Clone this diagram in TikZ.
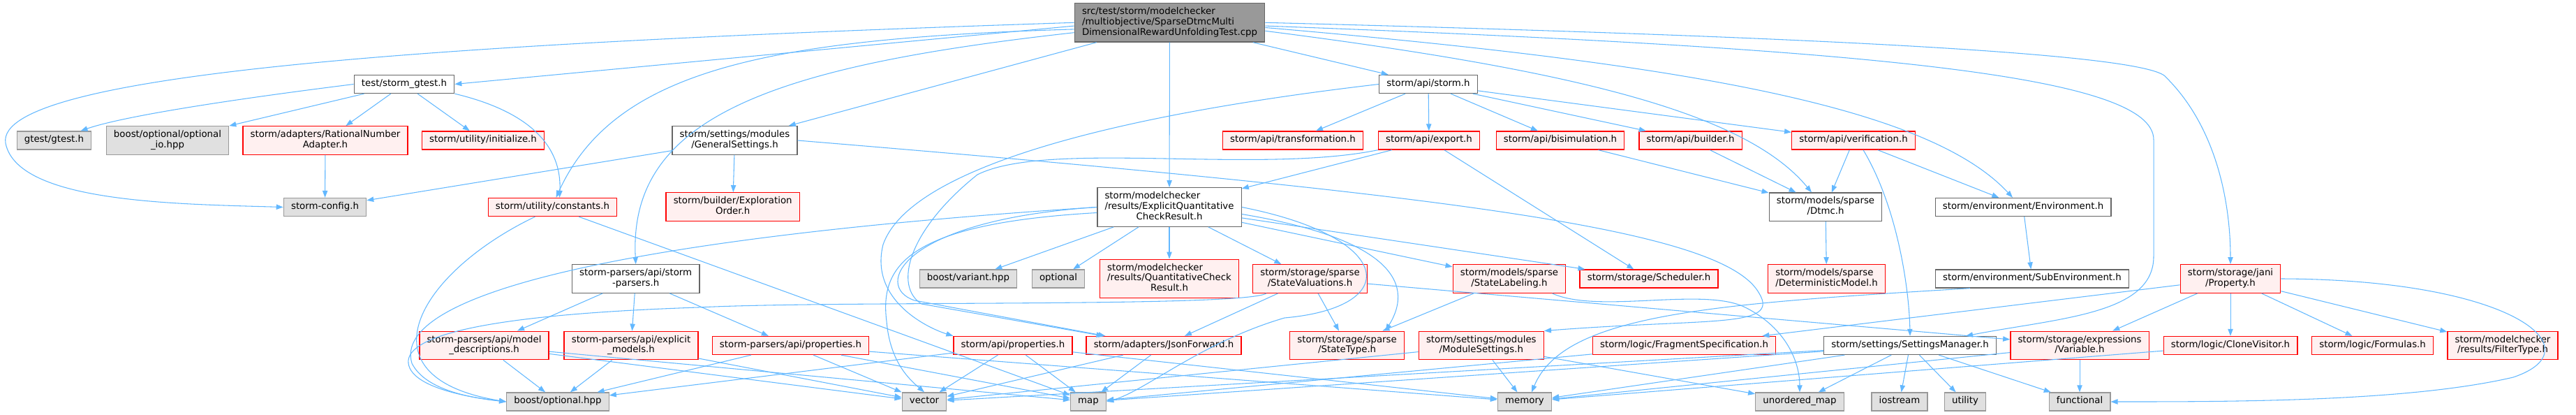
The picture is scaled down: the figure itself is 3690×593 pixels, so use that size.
\documentclass[tikz,border=0pt]{standalone}
\usepackage{fontspec}
\setmainfont{DejaVu Sans}
\usetikzlibrary{calc,arrows.meta}
\definecolor{edgeblue}{HTML}{63B8FF}
\definecolor{mainfill}{HTML}{999999}
\definecolor{mainline}{HTML}{666666}
\definecolor{plainline}{HTML}{666666}
\definecolor{redfill}{HTML}{FFF0F0}
\definecolor{redline}{HTML}{FF0000}
\definecolor{sysfill}{HTML}{E0E0E0}
\definecolor{sysline}{HTML}{999999}
% first lines flush left, last line centred
\newcommand{\lines}[2]{\begin{tabular}{@{}l@{}}#1\\\multicolumn{1}{@{}c@{}}{#2}\end{tabular}}

\begin{document}
\begin{tikzpicture}[x=0.75pt,y=-0.75pt,
  hdr/.style={draw=plainline,fill=white,line width=1pt,inner xsep=8pt,inner ysep=4pt,
    minimum height=19.5pt,font=\fontsize{10}{11.2}\selectfont,execute at begin node=\strut},
  hdrred/.style={hdr,draw=redline,fill=redfill},
  hdrsys/.style={hdr,draw=sysline,fill=sysfill},
  hdrmain/.style={hdr,draw=mainline,fill=mainfill},
  incl/.style={edgeblue,line width=0.8pt,->,>={Triangle[length=7.5pt,width=5.5pt]}}]
  \useasboundingbox (0,0) rectangle (3690,593);

  % row 0 and 1
  \node[hdrmain] (main) at (1675.5,32.3) {\lines{src/test/storm/modelchecker\\/multiobjective/SparseDtmcMulti}{DimensionalRewardUnfoldingTest.cpp}};
  \node[hdr] (gtestmain) at (579,120.5) {test/storm\_gtest.h};
  \node[hdr] (stormh) at (2046,120.5) {storm/api/storm.h};

  % row 2
  \node[hdrsys] (gtest) at (77.5,201) {gtest/gtest.h};
  \node[hdrsys] (optio) at (240,201) {\lines{boost/optional/optional}{\_io.hpp}};
  \node[hdrred] (rna) at (466,201) {\lines{storm/adapters/RationalNumber}{Adapter.h}};
  \node[hdrred] (init) at (692,201) {storm/utility/initialize.h};
  \node[hdr] (gensets) at (1052.5,201) {\lines{storm/settings/modules}{/GeneralSettings.h}};
  \node[hdrred] (transf) at (1852,201) {storm/api/transformation.h};
  \node[hdrred] (export) at (2047,201) {storm/api/export.h};
  \node[hdrred] (bisim) at (2235,201) {storm/api/bisimulation.h};
  \node[hdrred] (builder) at (2421.6,201) {storm/api/builder.h};
  \node[hdrred] (verif) at (2655,201) {storm/api/verification.h};

  % row 3
  \node[hdrsys] (config) at (465.5,296.5) {storm-config.h};
  \node[hdrred] (consts) at (791.5,296.5) {storm/utility/constants.h};
  \node[hdrred] (exporder) at (1049.7,296) {\lines{storm/builder/Exploration}{Order.h}};
  \node[hdr] (eqcr) at (1675,296.5) {\lines{storm/modelchecker\\/results/ExplicitQuantitative}{CheckResult.h}};
  \node[hdr] (dtmc) at (2615,296.3) {\lines{storm/models/sparse}{/Dtmc.h}};
  \node[hdr] (env) at (2898,296.5) {storm/environment/Environment.h};

  % row 4
  \node[hdr] (sparsers) at (910.7,399) {\lines{storm-parsers/api/storm}{-parsers.h}};
  \node[hdrsys] (variant) at (1387,399) {boost/variant.hpp};
  \node[hdrsys] (optional) at (1516,399) {optional};
  \node[hdrred] (qcr) at (1675,399) {\lines{storm/modelchecker\\/results/QuantitativeCheck}{Result.h}};
  \node[hdrred] (stateval) at (1876.5,399) {\lines{storm/storage/sparse}{/StateValuations.h}};
  \node[hdrred] (statelab) at (2162,399) {\lines{storm/models/sparse}{/StateLabeling.h}};
  \node[hdrred] (sched) at (2362,399) {storm/storage/Scheduler.h};
  \node[hdrred] (detmodel) at (2616.5,399) {\lines{storm/models/sparse}{/DeterministicModel.h}};
  \node[hdr] (subenv) at (2911,399) {storm/environment/SubEnvironment.h};
  \node[hdrred] (property) at (3195,399) {\lines{storm/storage/jani}{/Property.h}};

  % row 5
  \node[hdrred] (moddesc) at (693.5,494.5) {\lines{storm-parsers/api/model}{\_descriptions.h}};
  \node[hdrred] (explmod) at (904,494.5) {\lines{storm-parsers/api/explicit}{\_models.h}};
  \node[hdrred] (spprops) at (1132.5,494.5) {storm-parsers/api/properties.h};
  \node[hdrred] (apiprops) at (1451,494.5) {storm/api/properties.h};
  \node[hdrred] (json) at (1667,494.5) {storm/adapters/JsonForward.h};
  \node[hdrred] (statetype) at (1929.6,494.5) {\lines{storm/storage/sparse}{/StateType.h}};
  \node[hdrred] (modsets) at (2121.8,494.5) {\lines{storm/settings/modules}{/ModuleSettings.h}};
  \node[hdrred] (fragspec) at (2412.5,494.5) {storm/logic/FragmentSpecification.h};
  \node[hdr] (setman) at (2736,494.5) {storm/settings/SettingsManager.h};
  \node[hdrred] (variable) at (2979,494.5) {\lines{storm/storage/expressions}{/Variable.h}};
  \node[hdrred] (clonevis) at (3195,494.5) {storm/logic/CloneVisitor.h};
  \node[hdrred] (formulas) at (3398.6,494.5) {storm/logic/Formulas.h};
  \node[hdrred] (filtertype) at (3585,494.5) {\lines{storm/modelchecker}{/results/FilterType.h}};

  % row 6
  \node[hdrsys] (boostopt) at (799,575) {boost/optional.hpp};
  \node[hdrsys] (vector) at (1324,575) {vector};
  \node[hdrsys] (map) at (1559,575) {map};
  \node[hdrsys] (memory) at (2184,575) {memory};
  \node[hdrsys] (umap) at (2578,575) {unordered\_map};
  \node[hdrsys] (iostream) at (2721,575) {iostream};
  \node[hdrsys] (utility) at (2815,575) {utility};
  \node[hdrsys] (functional) at (2979,575) {functional};

  % straight includes
  \foreach \a/\b in {main/gensets,main/eqcr,main/stormh,
    gtestmain/optio,gtestmain/rna,gtestmain/init,rna/config,gensets/config,gensets/exporder,
    consts/map,sparsers/moddesc,sparsers/explmod,sparsers/spprops,
    moddesc/boostopt,moddesc/vector,moddesc/map,explmod/boostopt,explmod/vector,
    spprops/boostopt,spprops/vector,spprops/map,spprops/memory,
    apiprops/boostopt,apiprops/vector,apiprops/map,apiprops/memory,json/vector,json/map,
    eqcr/variant,eqcr/optional,eqcr/qcr,eqcr/stateval,eqcr/statelab,eqcr/sched,
    stormh/transf,stormh/export,stormh/bisim,stormh/builder,stormh/verif,
    export/eqcr,export/sched,bisim/dtmc,builder/dtmc,verif/dtmc,verif/env,
    dtmc/detmodel,env/subenv,stateval/json,stateval/statetype,stateval/variable,
    statelab/statetype,modsets/memory,modsets/umap,modsets/vector,fragspec/map,
    setman/memory,setman/umap,setman/iostream,setman/utility,setman/functional,
    setman/vector,setman/map,property/fragspec,property/variable,property/clonevis,
    property/formulas,property/filtertype,variable/functional,variable/memory,clonevis/memory}
    \draw[incl] (\a) -- (\b);

  % routed includes
  \draw[incl] (main.182) -- (gtestmain.east);
  \draw[incl] (main.west) .. controls (700,60) and (-10,100) .. (8,205)
     .. controls (25,290) and (250,292) .. (config.west);
  \draw[incl] (main.184) .. controls (1100,55) and (880,100) .. ($(consts.north)+(5,0)$);
  \draw[incl] (main.186) .. controls (1100,95) and (900,170) .. (sparsers.north);
  \draw[incl] (main.355) .. controls (2250,100) and (2500,160) .. ($(dtmc.north)+(-20,0)$);
  \draw[incl] (main.357) .. controls (2400,90) and (2760,150) .. ($(env.north)+(-15,0)$);
  \draw[incl] (main.east) .. controls (2700,55) and (3060,80) .. (3100,108)
     .. controls (3175,180) and (3195,290) .. (property.north);
  \draw[incl] (main.358) .. controls (2700,70) and (3085,110) .. (3085,200) -- (3085,367)
     .. controls (3085,450) and (2950,455) .. ($(setman.north)+(80,0)$);
  \draw[incl] (gtestmain.west) .. controls (350,140) and (180,165) .. ($(gtest.north)+(38,0)$);
  \draw[incl] (gtestmain.south east) .. controls (760,160) and (805,210) .. ($(consts.north)+(10,0)$);
  \draw[incl] ($(consts.south)+(-25,0)$) .. controls (600,390) and (510,540) .. (boostopt.west);
  \draw[incl] (eqcr.west) .. controls (900,340) and (560,420) .. (590,520)
     .. controls (610,560) and (680,570) .. (boostopt.west);
  \draw[incl] ($(stateval.south west)+(20,0)$) .. controls (1780,440) and (1200,430) .. (1000,440)
     .. controls (700,450) and (580,480) .. (585,520) .. controls (590,560) and (700,572) .. (boostopt.west);
  \draw[incl] (eqcr.west) .. controls (1290,315) and (1250,410) .. (1310,430) -- ($(json.north west)+(28,0)$);
  \draw[incl] (export.south west) .. controls (1800,250) and (1500,200) .. (1400,250)
     .. controls (1300,330) and (1280,410) .. (1320,435) -- ($(json.north west)+(25,0)$);
  \draw[incl] (stormh.west) .. controls (1550,170) and (1300,250) .. (1265,350)
     .. controls (1245,430) and (1330,470) .. (apiprops.north west);
  \draw[incl] ($(eqcr.west)+(0,8)$) .. controls (1300,320) and (1260,380) .. (1270,460)
     .. controls (1275,520) and (1305,545) .. (vector.north);
  \draw[incl] (eqcr.east) .. controls (2000,340) and (2010,440) .. (1840,455)
     .. controls (1720,490) and (1640,560) .. (map.east);
  \draw[incl] ($(eqcr.east)+(0,10)$) .. controls (1980,340) and (2030,400) .. ($(statetype.north)+(55,0)$);
  \draw[incl] ($(verif.south)+(14,0)$) .. controls (2720,300) and (2735,420) .. (setman.north);
  \draw[incl] ($(subenv.south west)+(50,0)$) .. controls (2450,435) and (2240,450) .. ($(memory.north)+(10,0)$);
  \draw[incl] ($(statelab.south east)+(-20,0)$) .. controls (2290,450) and (2440,410) .. (2500,440)
     .. controls (2560,470) and (2578,520) .. (umap.north);
  \draw[incl] (gensets.east) .. controls (2100,280) and (2470,330) .. (2520,420)
     .. controls (2550,470) and (2450,455) .. (modsets.north east);
  \draw[incl] (property.east) .. controls (3600,400) and (3720,500) .. (3600,540)
     .. controls (3450,575) and (3200,575) .. (functional.east);
\end{tikzpicture}
\end{document}
